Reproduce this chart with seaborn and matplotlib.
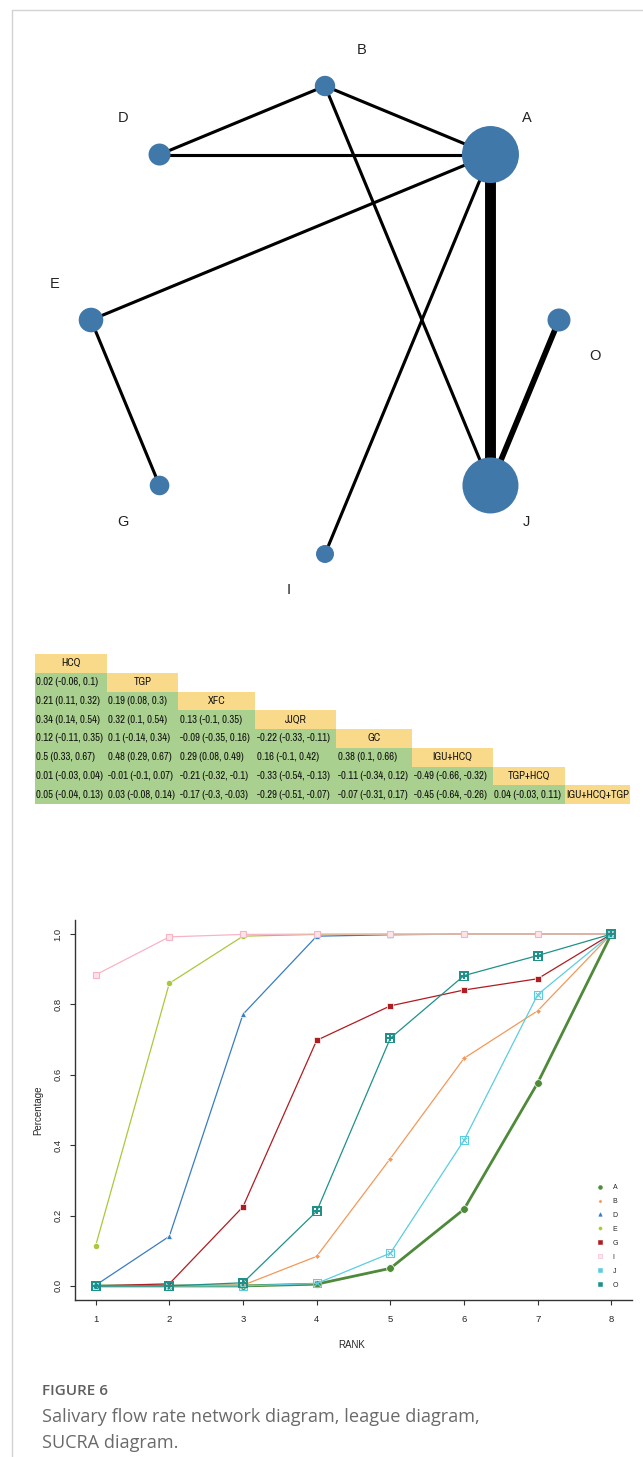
import numpy as np
import pandas as pd
import matplotlib
matplotlib.use("Agg")
import matplotlib.pyplot as plt
from matplotlib.lines import Line2D
import seaborn as sns

# ---------------- data ----------------
net_nodes = ["A", "B", "D", "E", "G", "I", "J", "O"]
net_node_size = [28.5, 10.2, 11.0, 12.3, 9.8, 9.0, 28.0, 11.5]
net_edges = [("A", "B"), ("A", "D"), ("B", "D"), ("A", "E"), ("B", "J"),
             ("A", "I"), ("A", "J"), ("J", "O"), ("E", "G")]
net_edge_studies = [1, 1, 1, 1, 1, 1, 4, 2, 1]

league_names = ["HCQ", "TGP", "XFC", "JJQR", "GC", "IGU+HCQ", "TGP+HCQ", "IGU+HCQ+TGP"]
league_row2 = ["0.02 (-0.06, 0.1)"]
league_row3 = ["0.21 (0.11, 0.32)", "0.19 (0.08, 0.3)"]
league_row4 = ["0.34 (0.14, 0.54)", "0.32 (0.1, 0.54)", "0.13 (-0.1, 0.35)"]
league_row5 = ["0.12 (-0.11, 0.35)", "0.1 (-0.14, 0.34)", "-0.09 (-0.35, 0.16)", "-0.22 (-0.33, -0.11)"]
league_row6 = ["0.5 (0.33, 0.67)", "0.48 (0.29, 0.67)", "0.29 (0.08, 0.49)", "0.16 (-0.1, 0.42)", "0.38 (0.1, 0.66)"]
league_row7 = ["0.01 (-0.03, 0.04)", "-0.01 (-0.1, 0.07)", "-0.21 (-0.32, -0.1)", "-0.33 (-0.54, -0.13)",
               "-0.11 (-0.34, 0.12)", "-0.49 (-0.66, -0.32)"]
league_row8 = ["0.05 (-0.04, 0.13)", "0.03 (-0.08, 0.14)", "-0.17 (-0.3, -0.03)", "-0.29 (-0.51, -0.07)",
               "-0.07 (-0.31, 0.17)", "-0.45 (-0.64, -0.26)", "0.04 (-0.03, 0.11)"]
league_lower = [[], league_row2, league_row3, league_row4, league_row5, league_row6, league_row7, league_row8]

ranks = [1, 2, 3, 4, 5, 6, 7, 8]
sucra_A = [0.0, 0.0, 0.0, 0.005, 0.050, 0.218, 0.577, 1.0]
sucra_B = [0.0, 0.0, 0.002, 0.084, 0.362, 0.647, 0.782, 1.0]
sucra_D = [0.002, 0.141, 0.772, 0.994, 0.998, 1.0, 1.0, 1.0]
sucra_E = [0.114, 0.860, 0.994, 0.999, 1.0, 1.0, 1.0, 1.0]
sucra_G = [0.0, 0.006, 0.225, 0.698, 0.796, 0.841, 0.873, 1.0]
sucra_I = [0.884, 0.992, 0.999, 1.0, 1.0, 1.0, 1.0, 1.0]
sucra_J = [0.0, 0.0, 0.0, 0.007, 0.093, 0.414, 0.828, 1.0]
sucra_O = [0.0, 0.0, 0.009, 0.212, 0.704, 0.882, 0.939, 1.0]
sucra_names = ["A", "B", "D", "E", "G", "I", "J", "O"]
sucra_vals = [sucra_A, sucra_B, sucra_D, sucra_E, sucra_G, sucra_I, sucra_J, sucra_O]

# ---------------- style ----------------
sns.set_style("ticks")
plt.rcParams["font.family"] = ["Liberation Sans", "DejaVu Sans"]

W, H = 643, 1457
fig = plt.figure(figsize=(W / 100, H / 100), dpi=100)


def fx(px):
    return px / W


def fy(py):
    return 1 - py / H


fig.add_artist(Line2D([fx(12), fx(12)], [fy(10), fy(H)], transform=fig.transFigure, color="#d2d2d2", lw=1))
fig.add_artist(Line2D([fx(12), fx(W)], [fy(10), fy(10)], transform=fig.transFigure, color="#d2d2d2", lw=1))

# ---------------- network diagram ----------------
R = 234.0
cx, cy = 325.0, 320.0
ax_net = fig.add_axes([fx(12), fy(640), fx(W) - fx(12), (640 - 10) / H])
ax_net.set_xlim((12 - cx) / R, (W - cx) / R)
ax_net.set_ylim((cy - 640) / R, (cy - 10) / R)
ax_net.axis("off")

angles = np.deg2rad(45 + 45 * np.arange(len(net_nodes)))
pos = {n: (np.cos(a), np.sin(a)) for n, a in zip(net_nodes, angles)}

for (u, v), k in zip(net_edges, net_edge_studies):
    lw_px = 0.5 + 2.6 * k
    ax_net.plot([pos[u][0], pos[v][0]], [pos[u][1], pos[v][1]], color="black",
                lw=lw_px * 0.72, solid_capstyle="butt", zorder=1)

node_df = pd.DataFrame({"x": [pos[n][0] for n in net_nodes],
                        "y": [pos[n][1] for n in net_nodes],
                        "s": [(2 * r * 0.72) ** 2 for r in net_node_size]})
ax_net.scatter(node_df["x"], node_df["y"], s=node_df["s"], color="#4178AA", linewidths=0, zorder=3)

for n, a in zip(net_nodes, angles):
    ox = 0.155 * np.sign(np.round(np.cos(a - 0.15), 6))
    oy = 0.155 * np.sign(np.round(np.sin(a - 0.15), 6))
    ax_net.text(pos[n][0] + ox, pos[n][1] + oy, n, ha="center", va="center",
                fontsize=10.5, color="#222222")

# ---------------- league table ----------------
col_w = [72, 71, 77, 81, 76, 81, 72, 65]
tx0, ty0, row_h = 35, 654, 18.75
nrow = len(league_names)
ax_tab = fig.add_axes([fx(tx0), fy(ty0 + row_h * nrow), sum(col_w) / W, row_h * nrow / H])
ax_tab.axis("off")
cell_text, cell_col = [], []
for i in range(nrow):
    rt, rc = [], []
    for j in range(nrow):
        if j < i:
            rt.append(league_lower[i][j]); rc.append("#A9D08E")
        elif j == i:
            rt.append(league_names[i]); rc.append("#F9D98A")
        else:
            rt.append(""); rc.append("none")
    cell_text.append(rt); cell_col.append(rc)
tab = ax_tab.table(cellText=cell_text, cellColours=cell_col,
                   colWidths=[w / sum(col_w) for w in col_w], bbox=[0, 0, 1, 1], edges="closed")
tab.auto_set_font_size(False)
for (i, j), cell in tab.get_celld().items():
    cell.set_linewidth(0)
    cell.set_edgecolor("none")
    t = cell.get_text()
    t.set_fontsize(7.7)
    t.set_fontfamily(["Archivo Narrow", "Liberation Sans"])
    t.set_color("#111111")
    if j < i:
        cell._loc = "left"
        cell.PAD = 0.02
        t.set_ha("left")
    else:
        cell._loc = "center"
        t.set_ha("center")

# ---------------- SUCRA plot ----------------
px0, px1, py0, py1 = 75, 632, 920, 1300
ax = fig.add_axes([fx(px0), fy(py1), (px1 - px0) / W, (py1 - py0) / H])
colors = ["#4E8A3A", "#F2995A", "#3A7CC2", "#A9C93B", "#B01C22", "#F8B4C4", "#5CCDE0", "#1F9189"]
markers = ["o", "D", "^", "o", "s", "s", r"$\boxtimes$", r"$\boxplus$"]
msizes = [5.5, 3.0, 5.0, 4.5, 4.5, 5.0, 6.5, 6.5]
lws = [2.0, 0.9, 0.9, 0.9, 0.9, 0.9, 0.9, 0.9]
handles = []
for name, vals, c, m, ms, lw in zip(sucra_names, sucra_vals, colors, markers, msizes, lws):
    df = pd.DataFrame({"rank": ranks, "p": vals})
    mfc = "#fde4ea" if name == "I" else c
    mec = c if (name == "I" or m.startswith("$")) else "white"
    mew = 0.8 if name == "I" else (0.0 if m.startswith("$") else 0.5)
    sns.lineplot(data=df, x="rank", y="p", ax=ax, color=c, lw=lw, marker=m, markersize=ms,
                 markerfacecolor=mfc, markeredgecolor=mec, markeredgewidth=mew, errorbar=None)
    hm = "s" if m.startswith("$") else m
    handles.append(Line2D([], [], ls="none", marker=hm, color=c, markersize=ms * 0.5 if hm != "s" else 2.6,
                          markerfacecolor=mfc, markeredgecolor=c, markeredgewidth=0.4))

ax.set_xlim(0.72, 8.28)
ax.set_ylim(-0.04, 1.04)
ax.set_xticks(ranks)
ax.set_yticks([0.0, 0.2, 0.4, 0.6, 0.8, 1.0])
ax.set_yticklabels(["0.0", "0.2", "0.4", "0.6", "0.8", "1.0"], rotation=90, va="center")
ax.tick_params(axis="both", labelsize=6.8, length=3.6, width=0.8, color="#333333", pad=5.5)
ax.tick_params(axis="x", pad=7)
for s in ["top", "right"]:
    ax.spines[s].set_visible(False)
for s in ["left", "bottom"]:
    ax.spines[s].set_linewidth(1.0)
    ax.spines[s].set_color("#333333")
ax.set_xlabel("RANK", fontsize=7)
ax.set_ylabel("Percentage", fontsize=7)
ax.xaxis.label.set_va("center")
ax.yaxis.label.set_va("center")
ax.xaxis.set_label_coords((352 - px0) / (px1 - px0), -(1345 - py1) / (py1 - py0))
ax.yaxis.set_label_coords((38 - px0) / (px1 - px0), 0.5)

leg = ax.legend(handles, sucra_names, loc="upper left", frameon=False, fontsize=5,
                bbox_to_anchor=((597 - px0) / (px1 - px0), (py1 - 1184) / (py1 - py0)),
                borderpad=0, handlelength=1.0, handletextpad=1.25, labelspacing=1.0,
                borderaxespad=0)

# ---------------- caption ----------------
fig.text(fx(42), fy(1391), "FIGURE 6", fontsize=11, color="#5f5f5f", fontweight="semibold",
         family=["Open Sans", "DejaVu Sans"], va="center", ha="left")
fig.text(fx(42), fy(1417), "Salivary flow rate network diagram, league diagram,", fontsize=13.1,
         color="#6a6a6a", family=["Open Sans", "DejaVu Sans"], va="center", ha="left")
fig.text(fx(42), fy(1443), "SUCRA diagram.", fontsize=13.1,
         color="#6a6a6a", family=["Open Sans", "DejaVu Sans"], va="center", ha="left")

fig.savefig("out.png", dpi=100)
